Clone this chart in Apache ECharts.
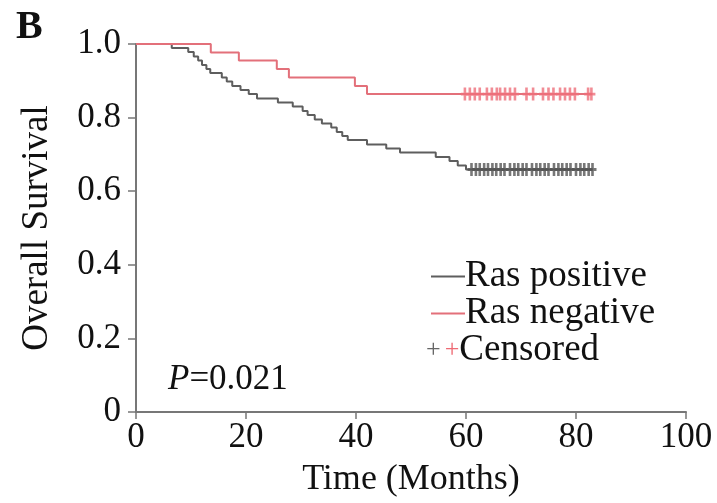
<!DOCTYPE html>
<html>
<head>
<meta charset="utf-8">
<script src="https://cdn.jsdelivr.net/npm/echarts@6/dist/echarts.min.js"></script>
<style>html,body{margin:0;padding:0;background:#fff}#c{width:717px;height:503px}</style>
</head>
<body>
<div id="c"></div>
<script>
// Ras positive KM steps (months, survival)
const posTimes = [0, 6.5, 9.5, 10.5, 11.3, 12, 12.8, 13.5, 15.6, 16.5, 17.5, 19, 20.5, 22, 25.8, 28.5, 30.3, 31.2, 32.5, 33.8, 35.5, 36.5, 37.5, 38.5, 42, 45.5, 48, 54.5, 57, 58.5, 60, 83];
const posSurv  = [1.0, 0.989, 0.978, 0.966, 0.955, 0.943, 0.932, 0.921, 0.909, 0.898, 0.886, 0.875, 0.864, 0.852, 0.841, 0.830, 0.818, 0.807, 0.795, 0.784, 0.773, 0.761, 0.750, 0.739, 0.727, 0.716, 0.705, 0.693, 0.682, 0.670, 0.659, 0.659];
// Ras negative KM steps
const negTimes = [0, 13.6, 18.7, 25.6, 27.8, 39.8, 42, 83];
const negSurv  = [1.0, 0.977, 0.955, 0.932, 0.909, 0.886, 0.864, 0.864];
// censoring times
const posCensor = [61, 61.8, 62.5, 63.3, 64, 64.8, 65.5, 66.3, 67, 68, 68.8, 69.5, 70.3, 71, 72, 72.8, 73.5, 74.3, 75, 76, 76.8, 77.5, 78.3, 79, 80, 80.8, 81.5, 82.3, 83];
const posCensorSurv = 0.659;
const negCensor = [59.8, 60.7, 61.6, 62.5, 63.8, 64.7, 65.6, 66.2, 67.1, 68, 68.9, 71, 72.2, 74, 75, 75.9, 77.1, 78, 78.9, 79.8, 82.2, 82.8];
const negCensorSurv = 0.864;
const xTicks = [0, 20, 40, 60, 80, 100];
const yTicks = [0, 0.2, 0.4, 0.6, 0.8, 1.0];

const FONT = '"Liberation Serif","Times New Roman",serif';
const GRAY = '#5e5e5e';
const RED = '#e3707a';
const plus = 'path://M-1.3,-6L1.3,-6L1.3,-1.3L4,-1.3L4,1.3L1.3,1.3L1.3,6L-1.3,6L-1.3,1.3L-4,1.3L-4,-1.3L-1.3,-1.3Z';

const chart = echarts.init(document.getElementById('c'), null, {renderer: 'canvas'});
chart.setOption({
  animation: false,
  backgroundColor: '#fff',
  grid: {left: 136, right: 31, top: 44, bottom: 87, containLabel: false},
  xAxis: {
    type: 'value', min: 0, max: 100, interval: 20,
    name: 'Time (Months)', nameLocation: 'middle', nameGap: 50,
    nameTextStyle: {fontFamily: FONT, fontSize: 36, color: '#111'},
    axisLine: {lineStyle: {color: '#777', width: 2}},
    axisTick: {show: true, length: 7, lineStyle: {color: '#777', width: 1.5}},
    axisLabel: {fontFamily: FONT, fontSize: 35, color: '#111', margin: 8,
      formatter: v => xTicks.includes(v) ? String(v) : ''},
    splitLine: {show: false}
  },
  yAxis: {
    type: 'value', min: 0, max: 1, interval: 0.2,
    name: 'Overall Survival', nameLocation: 'middle', nameGap: 80, nameRotate: 90,
    nameTextStyle: {fontFamily: FONT, fontSize: 37, color: '#111'},
    axisLine: {lineStyle: {color: '#777', width: 2}},
    axisTick: {show: true, length: 8, lineStyle: {color: '#777', width: 1.5}},
    axisLabel: {fontFamily: FONT, fontSize: 35, color: '#111', margin: 15,
      formatter: v => { const t = yTicks.find(y => Math.abs(y - v) < 1e-6); return t === undefined ? '' : (t === 0 ? '0' : t.toFixed(1)); }},
    splitLine: {show: false}
  },
  legend: {
    orient: 'vertical', left: 426, top: 253, itemWidth: 34, itemHeight: 12, itemGap: 0,
    icon: 'path://M0,5L34,5L34,7L0,7Z',
    textStyle: {fontFamily: FONT, fontSize: 37, color: '#111', padding: [0, 0, 0, -5]},
    data: ['Ras positive', 'Ras negative']
  },
  series: [
    {name: 'Ras positive', type: 'line', step: 'end', symbol: 'none',
      lineStyle: {color: GRAY, width: 2}, itemStyle: {color: GRAY},
      data: posTimes.map((t, i) => [t, posSurv[i]]), z: 3},
    {name: 'Ras negative', type: 'line', step: 'end', symbol: 'none',
      lineStyle: {color: RED, width: 2}, itemStyle: {color: RED},
      data: negTimes.map((t, i) => [t, negSurv[i]]), z: 3},
    {name: 'pos censored', type: 'scatter', symbol: plus, symbolSize: [8, 13],
      itemStyle: {color: '#555', opacity: 0.8},
      data: posCensor.map(t => [t, posCensorSurv]), z: 4},
    {name: 'neg censored', type: 'scatter', symbol: plus, symbolSize: [8, 13],
      itemStyle: {color: '#ee6f7a', opacity: 0.8},
      data: negCensor.map(t => [t, negCensorSurv]), z: 4}
  ],
  graphic: [
    {type: 'text', left: 16, top: 8, style: {text: 'B', fontFamily: FONT, fontSize: 40, fontWeight: 'bold', fill: '#111'}},
    {type: 'text', left: 168, top: 362, style: {
      text: '{i|P}=0.021',
      rich: {i: {fontFamily: FONT, fontSize: 35, fontStyle: 'italic', fill: '#111'}},
      fontFamily: FONT, fontSize: 35, fill: '#111'}},
    {type: 'text', left: 426, top: 332, style: {
      text: '{g|+}{r|+}Censored',
      rich: {g: {fontFamily: FONT, fontSize: 26, fill: '#666', padding: [0, 4, 0, 0]}, r: {fontFamily: FONT, fontSize: 26, fill: '#ee6a74'}},
      fontFamily: FONT, fontSize: 37, fill: '#111'}}
  ]
});
</script>
</body>
</html>
